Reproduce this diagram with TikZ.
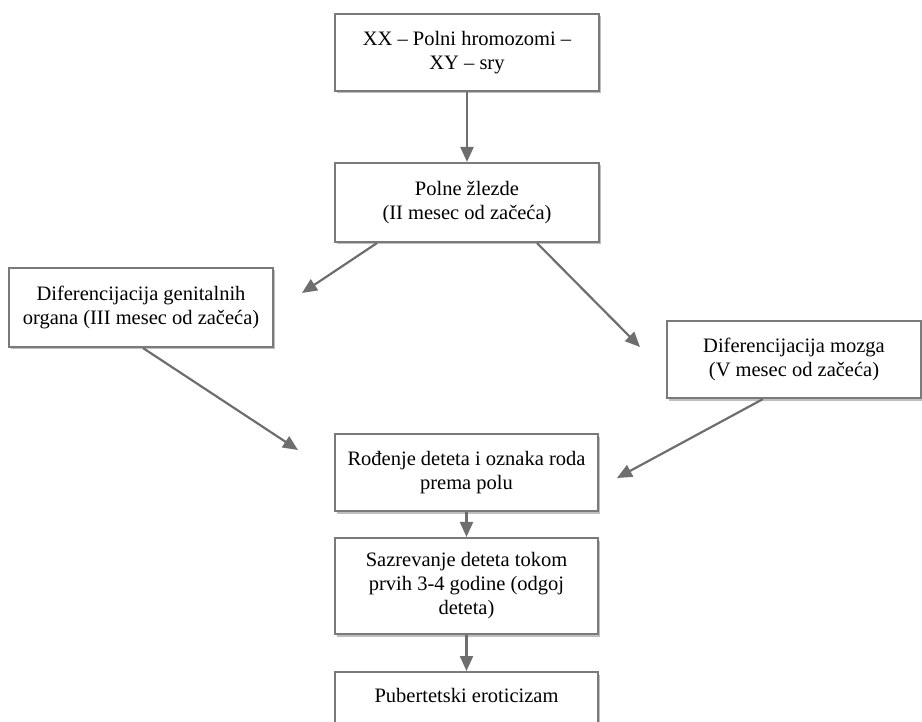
\documentclass[tikz,border=0pt]{standalone}
\usepackage{fontspec}
\setmainfont{Liberation Serif}
\usetikzlibrary{arrows.meta,shadows}
\definecolor{boxline}{HTML}{7A7A7A}
\definecolor{arrowcol}{HTML}{6E6E6E}
\begin{document}
\begin{tikzpicture}[x=1pt,y=-1pt,
  flowbox/.style={draw=boxline, line width=2.1pt, fill=white, align=center,
    font=\fontsize{20.5}{24}\selectfont, inner sep=0pt,
    drop shadow={shadow xshift=2pt, shadow yshift=-2.5pt, opacity=0.25, fill=black}},
  flowarrow/.style={draw=arrowcol, line width=2.2pt,
    -{Triangle[length=15pt,width=13pt]}}]
\useasboundingbox (0,0) rectangle (922,722);
\clip (0,0) rectangle (922,722);

\node[flowbox, minimum width=264pt, minimum height=77pt] (b1) at (467,52.5)
  {XX – Polni hromozomi –\\XY – sry};
\node[flowbox, minimum width=264pt, minimum height=79pt] (b2) at (467,202.5)
  {Polne žlezde\\(II mesec od začeća)};
\node[flowbox, minimum width=264pt, minimum height=79pt] (b3) at (141,307.5)
  {Diferencijacija genitalnih\\organa (III mesec od začeća)};
\node[flowbox, minimum width=254pt, minimum height=77pt] (b4) at (794,359.5)
  {Diferencijacija mozga\\(V mesec od začeća)};
\node[flowbox, minimum width=263pt, minimum height=77pt] (b5) at (466.5,472.5)
  {Rođenje deteta i oznaka roda\\prema polu};
\node[flowbox, minimum width=263pt, minimum height=96pt] (b6) at (466.5,586)
  {Sazrevanje deteta tokom\\prvih 3-4 godine (odgoj\\deteta)};
\node[flowbox, minimum width=263pt, anchor=north, inner ysep=16pt,
  text depth=45pt] (b7) at (466.5,671)
  {Pubertetski eroticizam};

\coordinate (t3) at (302,293);
\coordinate (t4) at (640,347);
\coordinate (t5l) at (298,450);
\coordinate (t5r) at (617,478);

\draw[flowarrow] (b1.south) -- (b2.north);
\draw[flowarrow] ([xshift=-90pt]b2.south) -- (t3);
\draw[flowarrow] ([xshift=70pt]b2.south) -- (t4);
\draw[flowarrow] ([xshift=2pt]b3.south) -- (t5l);
\draw[flowarrow] ([xshift=-31pt]b4.south) -- (t5r);
\draw[flowarrow] (b5.south) -- (b6.north);
\draw[flowarrow] (b6.south) -- (b7.north);
\end{tikzpicture}
\end{document}
